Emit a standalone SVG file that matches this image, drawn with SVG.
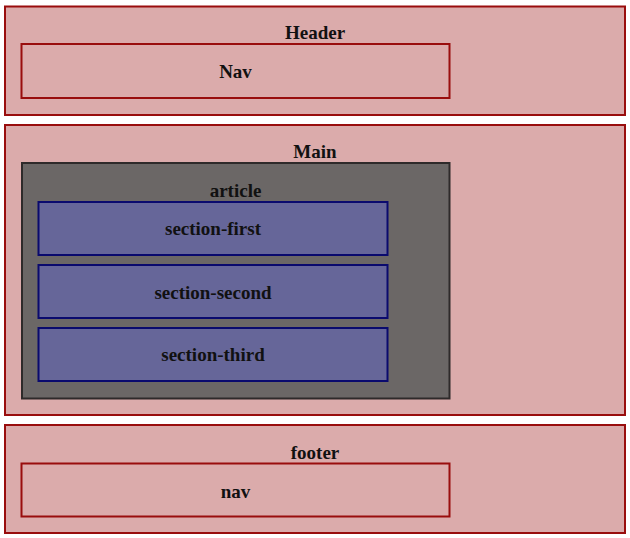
<svg xmlns="http://www.w3.org/2000/svg" width="630" height="538" viewBox="0 0 630 538">
<style>
.box{fill:#dbabab;stroke:#990d0d;stroke-width:2}
.art{fill:#6b6766;stroke:#2e2a2a;stroke-width:2}
.sec{fill:#666699;stroke:#0a0a6e;stroke-width:2}
text{font-family:"Liberation Serif","Times New Roman",serif;font-weight:bold;font-size:19px;fill:#111;text-anchor:middle}
</style>
<rect width="630" height="538" fill="#ffffff"/>
<g id="header"><rect class="box" x="5" y="6.5" width="620" height="108.5"/><text x="315" y="39">Header</text></g>
<g id="header-nav"><rect class="box" x="21.5" y="44" width="428" height="54"/><text x="235.5" y="77.5">Nav</text></g>
<g id="main"><rect class="box" x="5" y="125" width="620" height="290"/><text x="315" y="158">Main</text></g>
<g id="article"><rect class="art" x="22" y="163" width="427.5" height="235.5"/><text x="235.5" y="196.5">article</text></g>
<g id="section-first"><rect class="sec" x="38.5" y="202" width="349" height="53"/><text x="213" y="234.5">section-first</text></g>
<g id="section-second"><rect class="sec" x="38.5" y="265" width="349" height="53"/><text x="213" y="298.5">section-second</text></g>
<g id="section-third"><rect class="sec" x="38.5" y="328" width="349" height="53"/><text x="213" y="361">section-third</text></g>
<g id="footer"><rect class="box" x="5" y="425" width="620" height="108"/><text x="315" y="458.5">footer</text></g>
<g id="footer-nav"><rect class="box" x="21.5" y="463.5" width="428" height="53"/><text x="235.5" y="497.5">nav</text></g>
<g id="connectors"></g>
</svg>
